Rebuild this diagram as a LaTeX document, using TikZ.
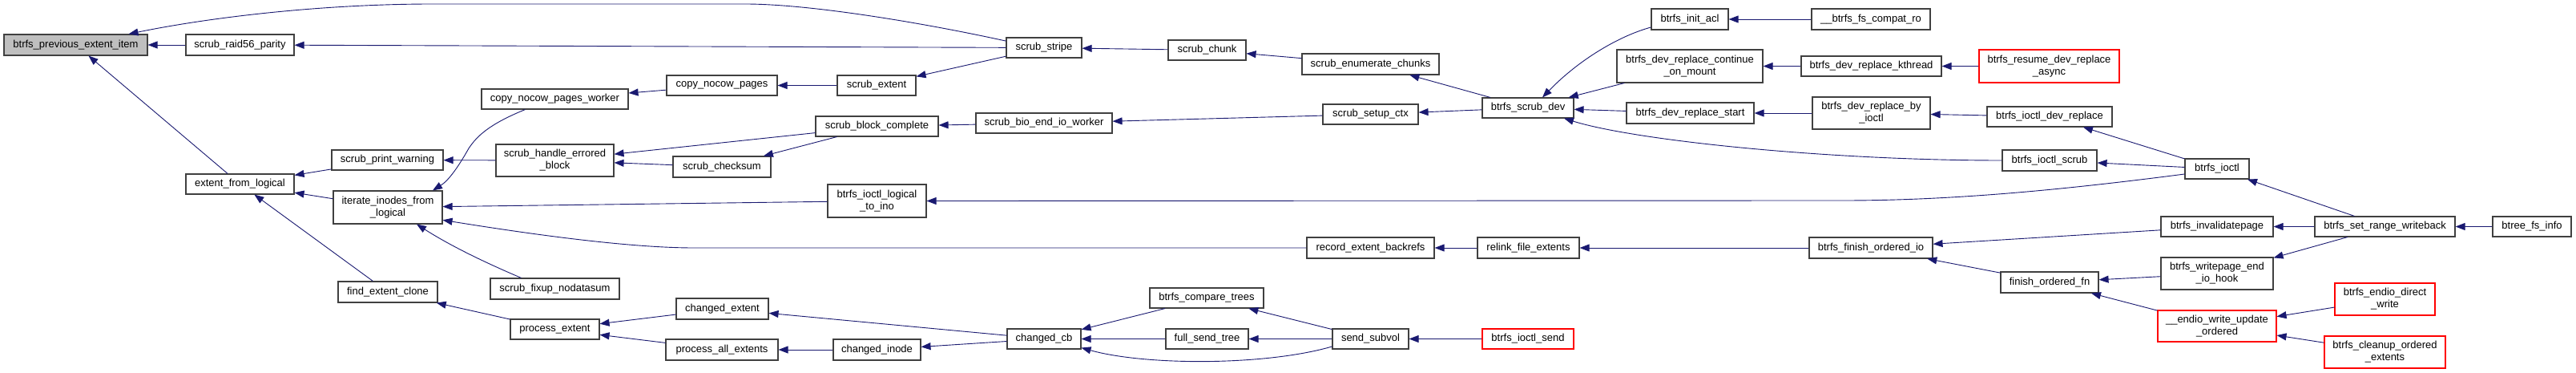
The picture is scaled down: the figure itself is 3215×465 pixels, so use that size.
\documentclass[tikz,border=0pt]{standalone}
\usepackage{fontspec}
\setmainfont{Liberation Sans}
\usetikzlibrary{arrows.meta}
\definecolor{edgeblue}{HTML}{191970}
\definecolor{rootfill}{HTML}{BFBFBF}
\definecolor{boxline}{HTML}{404040}
\newcommand\fnfont{\fontsize{13}{15}\selectfont}
\tikzset{
  fn/.style={draw=boxline, line width=1.1pt, fill=white, inner sep=0pt, font=\fnfont, align=center, text=black},
  rootfn/.style={fn, fill=rootfill},
  redfn/.style={fn, draw=red},
  edge/.style={draw=edgeblue, line width=0.9pt, -{Triangle[length=12pt,width=9pt]}},
}
\begin{document}
\begin{tikzpicture}[x=1pt,y=-1pt]
\useasboundingbox (0,0) rectangle (3215,465);
% nodes
\node[rootfn, minimum width=179pt, minimum height=26pt] (prev) at (94.5,56) {btrfs\_previous\_extent\_item};
\node[fn, minimum width=135pt, minimum height=26pt] (raid56) at (299.5,56) {scrub\_raid56\_parity};
\node[fn, minimum width=135pt, minimum height=25pt] (efl) at (299.5,229.5) {extent\_from\_logical};
\node[fn, minimum width=139pt, minimum height=25pt] (spw) at (483.5,199.5) {scrub\_print\_warning};
\node[fn, minimum width=136pt, minimum height=41pt] (iifl) at (484,258.5) {iterate\_inodes\_from\\\_logical};
\node[fn, minimum width=124pt, minimum height=26pt] (fec) at (484,364) {find\_extent\_clone};
\node[fn, minimum width=183pt, minimum height=25pt] (cnpw) at (692.5,123.5) {copy\_nocow\_pages\_worker};
\node[fn, minimum width=138pt, minimum height=25pt] (cnp) at (901,106.5) {copy\_nocow\_pages};
\node[fn, minimum width=98pt, minimum height=25pt] (sext) at (1094,106.5) {scrub\_extent};
\node[fn, minimum width=147pt, minimum height=40pt] (sheb) at (692.5,200) {scrub\_handle\_errored\\\_block};
\node[fn, minimum width=122pt, minimum height=26pt] (scs) at (901,208) {scrub\_checksum};
\node[fn, minimum width=153pt, minimum height=25pt] (sbc) at (1094.5,157.5) {scrub\_block\_complete};
\node[fn, minimum width=123pt, minimum height=41pt] (bilti) at (1094.5,250.5) {btrfs\_ioctl\_logical\\\_to\_ino};
\node[fn, minimum width=161pt, minimum height=26pt] (sfn) at (692.5,360) {scrub\_fixup\_nodatasum};
\node[fn, minimum width=111pt, minimum height=25pt] (pe) at (692.5,410.5) {process\_extent};
\node[fn, minimum width=115pt, minimum height=26pt] (ce) at (901.5,385) {changed\_extent};
\node[fn, minimum width=140pt, minimum height=26pt] (pae) at (901,436) {process\_all\_extents};
\node[fn, minimum width=109pt, minimum height=26pt] (ci) at (1094.5,436) {changed\_inode};
\node[fn, minimum width=94pt, minimum height=25pt] (ss) at (1303,59.5) {scrub\_stripe};
\node[fn, minimum width=97pt, minimum height=25pt] (sc) at (1506.5,62.5) {scrub\_chunk};
\node[fn, minimum width=170pt, minimum height=25pt] (sbeiw) at (1303,153.5) {scrub\_bio\_end\_io\_worker};
\node[fn, minimum width=92pt, minimum height=25pt] (ccb) at (1303,422.5) {changed\_cb};
\node[fn, minimum width=142pt, minimum height=25pt] (bct) at (1506,371.5) {btrfs\_compare\_trees};
\node[fn, minimum width=103pt, minimum height=25pt] (fst) at (1506.5,422.5) {full\_send\_tree};
\node[fn, minimum width=171pt, minimum height=26pt] (sec) at (1710.5,80) {scrub\_enumerate\_chunks};
\node[fn, minimum width=119pt, minimum height=25pt] (ssc) at (1710.5,142.5) {scrub\_setup\_ctx};
\node[fn, minimum width=114pt, minimum height=25pt] (bsd) at (1907,134.5) {btrfs\_scrub\_dev};
\node[fn, minimum width=96pt, minimum height=26pt] (bia) at (2109,24) {btrfs\_init\_acl};
\node[fn, minimum width=182pt, minimum height=41pt] (bdrcm) at (2109,82.5) {btrfs\_dev\_replace\_continue\\\_on\_mount};
\node[fn, minimum width=159pt, minimum height=26pt] (bdrs) at (2109.5,141) {btrfs\_dev\_replace\_start};
\node[fn, minimum width=159pt, minimum height=26pt] (reb) at (1710.5,309) {record\_extent\_backrefs};
\node[fn, minimum width=127pt, minimum height=26pt] (rfe) at (1907.5,309) {relink\_file\_extents};
\node[fn, minimum width=95pt, minimum height=25pt] (ssv) at (1710.5,422.5) {send\_subvol};
\node[redfn, minimum width=114pt, minimum height=25pt] (bis) at (1907,422.5) {btrfs\_ioctl\_send};
\node[fn, minimum width=148pt, minimum height=26pt] (bfcr) at (2335,24) {\_\_btrfs\_fs\_compat\_ro};
\node[fn, minimum width=175pt, minimum height=25pt] (bdrk) at (2335.5,82.5) {btrfs\_dev\_replace\_kthread};
\node[redfn, minimum width=175pt, minimum height=41pt] (brdra) at (2557.5,82.5) {btrfs\_resume\_dev\_replace\\\_async};
\node[fn, minimum width=147pt, minimum height=40pt] (bdrbi) at (2335.5,141) {btrfs\_dev\_replace\_by\\\_ioctl};
\node[fn, minimum width=156pt, minimum height=25pt] (bidr) at (2558,145.5) {btrfs\_ioctl\_dev\_replace};
\node[fn, minimum width=118pt, minimum height=26pt] (bisc) at (2558,200) {btrfs\_ioctl\_scrub};
\node[fn, minimum width=154pt, minimum height=26pt] (bfoi) at (2335,309) {btrfs\_finish\_ordered\_io};
\node[fn, minimum width=122pt, minimum height=26pt] (fof) at (2558,352) {finish\_ordered\_fn};
\node[fn, minimum width=80pt, minimum height=25pt] (bi) at (2767,210.5) {btrfs\_ioctl};
\node[fn, minimum width=140pt, minimum height=25pt] (binv) at (2767,282.5) {btrfs\_invalidatepage};
\node[fn, minimum width=175pt, minimum height=25pt] (bsrw) at (2976.5,282.5) {btrfs\_set\_range\_writeback};
\node[fn, minimum width=98pt, minimum height=25pt] (btfi) at (3160,282.5) {btree\_fs\_info};
\node[fn, minimum width=140pt, minimum height=40pt] (bweih) at (2767,341) {btrfs\_writepage\_end\\\_io\_hook};
\node[redfn, minimum width=148pt, minimum height=39pt] (ewuo) at (2767,406.5) {\_\_endio\_write\_update\\\_ordered};
\node[redfn, minimum width=125pt, minimum height=40pt] (bedw) at (2976.5,373) {btrfs\_endio\_direct\\\_write};
\node[redfn, minimum width=151pt, minimum height=40pt] (bcoe) at (2976.5,439) {btrfs\_cleanup\_ordered\\\_extents};
% curved edges
\draw[edge] (ss.170) .. controls (1150,28) and (1010,5) .. (930,5) -- (540,5) .. controls (400,5) and (260,22) .. ([xshift=66pt]prev.north);
\draw[edge] ([xshift=-37pt]cnpw.south) .. controls (610,155) and (595,170) .. (585,185) .. controls (572,208) and (560,225) .. ([xshift=56pt]iifl.north);
\draw[edge] (reb.west) -- (866,309) .. controls (780,309) and (650,290) .. (iifl.-13);
\draw[edge] ([xshift=-42pt]sfn.north) .. controls (600,325) and (560,305) .. ([xshift=36pt]iifl.south);
\draw[edge] ([yshift=-10pt]bia.west) .. controls (2020,45) and (1970,75) .. ([xshift=18pt]bsd.north);
\draw[edge] (bisc.west) .. controls (2280,200) and (2040,175) .. ([xshift=45pt]bsd.south);
\draw[edge] ([yshift=-6.5pt]bi.west) .. controls (2550,240) and (2420,250) .. (2300,250) -- (bilti.east);
\draw[edge] ([yshift=-9.5pt]ssv.west) .. controls (1580,456) and (1430,456) .. ([yshift=2pt]ccb.south east);
% straight edges
\draw[edge] (ss) -- (raid56);
\draw[edge] (raid56) -- (prev);
\draw[edge] (efl) -- (prev);
\draw[edge] (spw) -- (efl);
\draw[edge] (iifl) -- (efl);
\draw[edge] (fec) -- (efl);
\draw[edge] (sheb) -- (spw);
\draw[edge] (bilti) -- (iifl);
\draw[edge] (cnp) -- (cnpw);
\draw[edge] (sext) -- (cnp);
\draw[edge] (ss) -- (sext);
\draw[edge] (sbc) -- (sheb);
\draw[edge] (scs) -- (sheb);
\draw[edge] (sbc) -- (scs);
\draw[edge] (sbeiw) -- (sbc);
\draw[edge] (ssc) -- (sbeiw);
\draw[edge] (sc) -- (ss);
\draw[edge] (sec) -- (sc);
\draw[edge] (bsd) -- (sec);
\draw[edge] (bsd) -- (ssc);
\draw[edge] (bdrcm) -- (bsd);
\draw[edge] (bdrs) -- (bsd);
\draw[edge] (bfcr) -- (bia);
\draw[edge] (bdrk) -- (bdrcm);
\draw[edge] (brdra) -- (bdrk);
\draw[edge] (bdrbi) -- (bdrs);
\draw[edge] (bidr) -- (bdrbi);
\draw[edge] (bi) -- (bidr);
\draw[edge] (bi) -- (bisc);
\draw[edge] (bsrw) -- (bi);
\draw[edge] (bsrw) -- (binv);
\draw[edge] (bsrw) -- (bweih);
\draw[edge] (btfi) -- (bsrw);
\draw[edge] (rfe) -- (reb);
\draw[edge] (bfoi) -- (rfe);
\draw[edge] (binv) -- (bfoi);
\draw[edge] (fof) -- (bfoi);
\draw[edge] (bweih) -- (fof);
\draw[edge] (ewuo) -- (fof);
\draw[edge] (bedw) -- (ewuo);
\draw[edge] (bcoe) -- (ewuo);
\draw[edge] (pe) -- (fec);
\draw[edge] (ce) -- (pe);
\draw[edge] (pae) -- (pe);
\draw[edge] (ci) -- (pae);
\draw[edge] (ccb) -- (ce);
\draw[edge] (ccb) -- (ci);
\draw[edge] (bct) -- (ccb);
\draw[edge] (fst) -- (ccb);
\draw[edge] (ssv) -- (bct);
\draw[edge] (ssv) -- (fst);
\draw[edge] (bis) -- (ssv);
\end{tikzpicture}
\end{document}
